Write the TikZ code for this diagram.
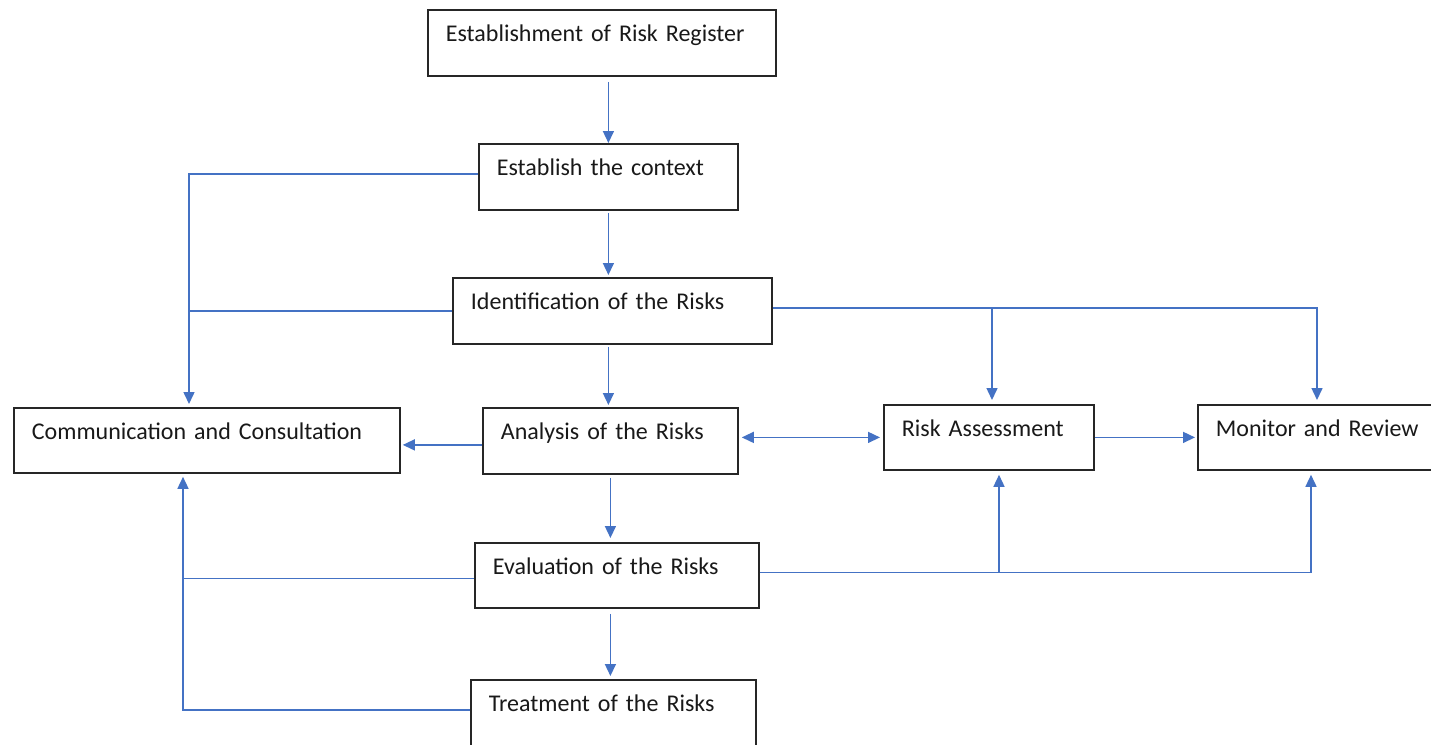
\documentclass[tikz,border=0pt]{standalone}
\usepackage{fontspec}
\setmainfont{Carlito}
\usetikzlibrary{arrows.meta}
\definecolor{linkblue}{HTML}{4472C4}
\begin{document}
\begin{tikzpicture}[x=1pt,y=-1pt,
  box/.style={draw=black!85, line width=1.8pt, anchor=north west, align=left,
    inner xsep=18pt, inner ysep=15pt, text height=17pt, text depth=19pt,
    font=\fontsize{24}{26}\selectfont, text=black!90},
  link/.style={draw=linkblue, line width=1.5pt},
  arr/.style={link, -{Triangle[length=12pt,width=11pt]}},
  darr/.style={link, {Triangle[length=12pt,width=11pt]}-{Triangle[length=12pt,width=11pt]}}]
\useasboundingbox (0,0) rectangle (1431,744);
\fill[white] (0,0) rectangle (1431,744);
\node[box, text width=312pt] (reg) at (427,9) {Establishment of Risk Register};
\node[box, text width=223pt] (ctx) at (478,143) {Establish the context};
\node[box, text width=283pt] (idf) at (452,277) {Identification of the Risks};
\node[box, text width=350pt, text depth=18pt] (com) at (13,407) {Communication and Consultation};
\node[box, text width=219pt] (ana) at (482,407) {Analysis of the Risks};
\node[box, text width=174pt, text depth=18pt] (ras) at (883,404) {Risk Assessment};
\node[box, text width=212pt, text depth=18pt] (mon) at (1197,404) {Monitor and Review};
\node[box, text width=248pt, text depth=18pt] (eva) at (474,542) {Evaluation of the Risks};
\node[box, text width=249pt] (trt) at (470,679) {Treatment of the Risks};
\coordinate (vl) at (189,0);
\coordinate (vl2) at (183,0);
\coordinate (rx) at (992,0);
\coordinate (mx) at (1317,0);
\coordinate (rx2) at (999,0);
\coordinate (mx2) at (1311,0);
% vertical chain
\draw[arr, shorten <=5pt] (reg.south -| ctx.north) -- (ctx.north);
\draw[arr, shorten <=2pt, shorten >=2pt] (ctx.south) -- (ctx.south |- idf.north);
\draw[arr, shorten <=2pt, shorten >=2pt] (ctx.south |- idf.south) -- (ctx.south |- ana.north);
\draw[arr, shorten <=3pt, shorten >=4pt] (ana.south) -- (ana.south |- eva.north);
\draw[arr, shorten <=5pt, shorten >=3pt] (ana.south |- eva.south) -- (ana.south |- trt.north);
% left side
\draw[arr, shorten >=3pt] ([yshift=3pt]ctx.west) -| (vl |- com.north);
\draw[link] (idf.west) -- (vl |- idf.west);
\draw[arr, shorten >=2pt] ([yshift=-4pt]ana.west) -- ([yshift=-4pt]ana.west -| com.east);
\draw[link] ([yshift=-3pt]eva.west) -- ([yshift=-3pt]vl2 |- eva.west);
\draw[arr, shorten >=3pt] ([yshift=3pt]trt.west) -| (vl2 |- com.south);
% right side
\draw[arr, shorten >=4pt] ([yshift=3pt]idf.east) -| (mx |- mon.north);
\draw[arr, shorten >=4pt] ([yshift=3pt]rx |- idf.east) -- (rx |- ras.north);
\draw[darr, shorten <=3pt, shorten >=3pt] (ana.east |- ras.west) -- (ras.west);
\draw[arr, shorten >=2pt] (ras.east) -- (mon.west);
\draw[arr, shorten >=4pt] ([yshift=3pt]eva.east) -| (mx2 |- mon.south);
\draw[arr, shorten >=4pt] ([yshift=3pt]rx2 |- eva.east) -- (rx2 |- ras.south);
\end{tikzpicture}
\end{document}
